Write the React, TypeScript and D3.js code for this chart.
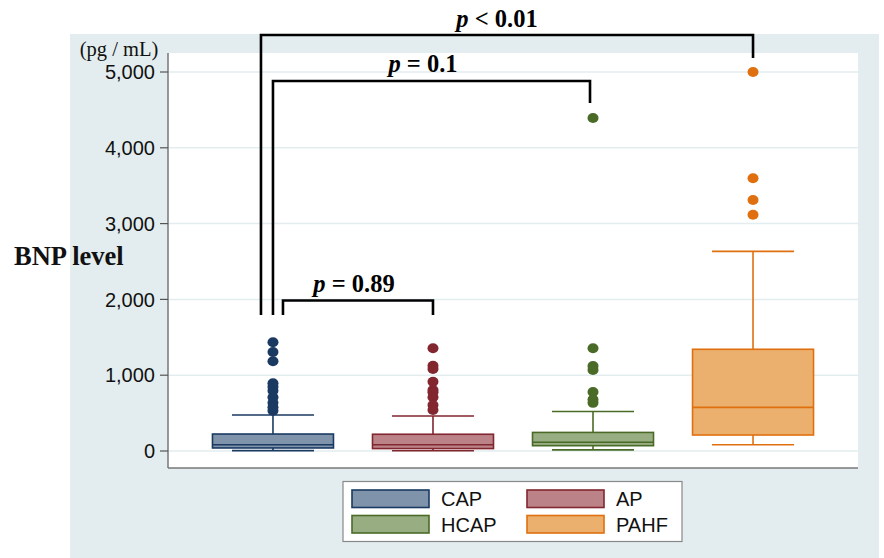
import React from "react";
import * as d3 from "d3";

const categories = ["CAP", "AP", "HCAP", "PAHF"];
const whiskerLow = [5, 4, 15, 83];
const q1 = [40, 32, 70, 211];
const median = [83, 83, 115, 576];
const q3 = [224, 221, 245, 1342];
const whiskerHigh = [475, 462, 522, 2634];
const outliersCAP = [1434, 1306, 1183, 893, 848, 795, 708, 637, 577, 532];
const outliersAP = [1355, 1125, 1082, 914, 805, 774, 708, 607, 541];
const outliersHCAP = [4393, 1355, 1120, 1070, 778, 680, 635];
const outliersPAHF = [5000, 3598, 3311, 3117];
const outliers = [outliersCAP, outliersAP, outliersHCAP, outliersPAHF];
const yTicks = [0, 1000, 2000, 3000, 4000, 5000];
const fills = ["#7f93ab", "#bb8388", "#99ad82", "#ebb06d"];
const strokes = ["#1a3a62", "#82262f", "#4a6b27", "#e0700f"];

const comparisons = [
  { a: "CAP", b: "PAHF", label: "< 0.01" },
  { a: "CAP", b: "HCAP", label: "= 0.1" },
  { a: "CAP", b: "AP", label: "= 0.89" },
];

const W = 884;
const H = 558;
const plotL = 168, plotR = 858, plotT = 53, plotB = 468;

export default function App() {
  const y = d3.scaleLinear().domain([0, 5000]).range([451, 72]);
  const x = d3.scalePoint<string>().domain(categories).range([plotL, plotR]).padding(0.656);
  const boxW = 121;
  const capW = 82;
  const fmt = d3.format(",");
  const sans = "'Liberation Sans', Arial, sans-serif";
  const serif = "'Liberation Serif', 'Times New Roman', serif";

  const xc = (c: string) => x(c) as number;

  const br = [
    { x1: xc("CAP") - 12, x2: xc("PAHF"), top: 35, bot1: 315, bot2: 58, ty: 27, tx: 497 },
    { x1: xc("CAP"), x2: xc("HCAP") - 3, top: 81, bot1: 315, bot2: 103, ty: 72, tx: 423 },
    { x1: xc("CAP") + 10, x2: xc("AP"), top: 300.5, bot1: 315, bot2: 315, ty: 291.5, tx: 354 },
  ];

  return (
    <svg width={W} height={H} style={{ position: "absolute", left: 0, top: 0, display: "block" }}>
      <rect x={0} y={0} width={W} height={H} fill="#ffffff" />
      <rect x={70} y={34} width={809} height={H - 34} fill="#e3edef" />
      <rect x={plotL} y={plotT} width={plotR - plotL} height={plotB - plotT} fill="#ffffff" />
      {yTicks.map((t) => (
        <line key={"g" + t} x1={plotL} x2={plotR} y1={y(t)} y2={y(t)} stroke="#e3edef" strokeWidth={1.5} />
      ))}
      <line x1={plotL} x2={plotL} y1={plotT} y2={plotB} stroke="#777" strokeWidth={1.5} />
      <line x1={plotL} x2={plotR} y1={plotB} y2={plotB} stroke="#777" strokeWidth={1.5} />
      {yTicks.map((t) => (
        <g key={"t" + t}>
          <line x1={160} x2={plotL} y1={y(t)} y2={y(t)} stroke="#555" strokeWidth={1.2} />
          <text x={155} y={y(t)} dy="0.36em" textAnchor="end" fontFamily={sans} fontSize={20} fill="#111">
            {fmt(t)}
          </text>
        </g>
      ))}
      <text x={119} y={56} textAnchor="middle" fontFamily={serif} fontSize={20.5} fill="#111">(pg / mL)</text>
      <text x={14} y={265} fontFamily={serif} fontSize={26.5} fontWeight="bold" fill="#111">BNP level</text>

      {categories.map((c, i) => {
        const cx = xc(c);
        return (
          <g key={c}>
            <line x1={cx} x2={cx} y1={y(q3[i])} y2={y(whiskerHigh[i])} stroke={strokes[i]} strokeWidth={1.6} />
            <line x1={cx} x2={cx} y1={y(q1[i])} y2={y(whiskerLow[i])} stroke={strokes[i]} strokeWidth={1.6} />
            <line x1={cx - capW / 2} x2={cx + capW / 2} y1={y(whiskerHigh[i])} y2={y(whiskerHigh[i])} stroke={strokes[i]} strokeWidth={1.6} />
            <line x1={cx - capW / 2} x2={cx + capW / 2} y1={y(whiskerLow[i])} y2={y(whiskerLow[i])} stroke={strokes[i]} strokeWidth={1.6} />
            <rect x={cx - boxW / 2} y={y(q3[i])} width={boxW} height={y(q1[i]) - y(q3[i])} fill={fills[i]} stroke={strokes[i]} strokeWidth={1.6} />
            <line x1={cx - boxW / 2} x2={cx + boxW / 2} y1={y(median[i])} y2={y(median[i])} stroke={strokes[i]} strokeWidth={1.6} />
            {outliers[i].map((v, j) => (
              <ellipse key={j} cx={cx} cy={y(v)} rx={5.5} ry={5} fill={strokes[i]} />
            ))}
          </g>
        );
      })}

      {comparisons.map((cmp, k) => {
        const b = br[k];
        return (
          <g key={k}>
            <path d={`M${b.x1},${b.bot1}V${b.top}H${b.x2}V${b.bot2}`} fill="none" stroke="#000" strokeWidth={2.6} />
            <text x={b.tx} y={b.ty} textAnchor="middle" fontFamily={serif} fontSize={24.5} fontWeight="bold" fill="#000">
              <tspan fontStyle="italic">p</tspan>
              {" " + cmp.label}
            </text>
          </g>
        );
      })}

      <rect x={343} y={481.5} width={339} height={60} fill="#ffffff" stroke="#888" strokeWidth={1.2} />
      {categories.map((c, i) => {
        const col = i % 2;
        const row = Math.floor(i / 2);
        const sx = col === 0 ? 352 : 527;
        const sy = row === 0 ? 490 : 515.5;
        return (
          <g key={"l" + c}>
            <rect x={sx} y={sy} width={77} height={17.5} fill={fills[i]} stroke={strokes[i]} strokeWidth={1.6} />
            <text x={sx + 89} y={sy + 9} dy="0.36em" fontFamily={sans} fontSize={20} fill="#111">{c}</text>
          </g>
        );
      })}
    </svg>
  );
}
